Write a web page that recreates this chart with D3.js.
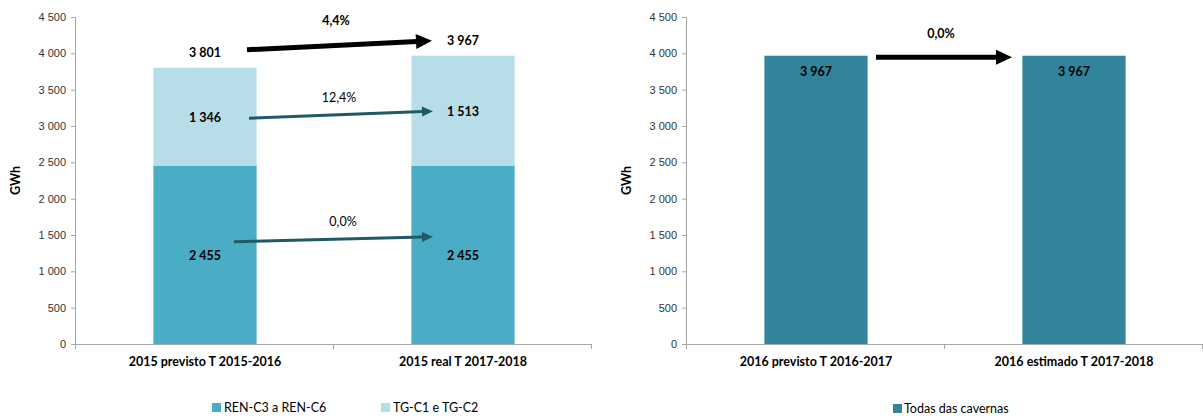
<!DOCTYPE html>
<html><head><meta charset="utf-8">
<script src="https://cdn.jsdelivr.net/npm/d3@7/dist/d3.min.js"></script>
<style>body{margin:0;background:#fff}svg{display:block;font-family:Lato,"Open Sans",sans-serif}</style>
</head><body><svg id="c" width="1203" height="418"></svg>
<script>
// ---- data ----
const leftCategories = ["2015 previsto T 2015-2016", "2015 real T 2017-2018"];
const renValues = [2455, 2455];          // REN-C3 a REN-C6
const tgValues = [1346, 1513];           // TG-C1 e TG-C2
const leftTotals = [3801, 3967];
const leftChanges = ["4,4%", "12,4%", "0,0%"]; // total, TG, REN
const rightCategories = ["2016 previsto T 2016-2017", "2016 estimado T 2017-2018"];
const rightValues = [3967, 3967];        // Todas das cavernas
const rightChange = "0,0%";
const yTicks = [0, 500, 1000, 1500, 2000, 2500, 3000, 3500, 4000, 4500];
const seriesNames = ["REN-C3 a REN-C6", "TG-C1 e TG-C2", "Todas das cavernas"];

const COL_REN = "#4BACC6", COL_TG = "#B7DEE8", COL_ALL = "#31849B", COL_ARROW = "#215967";
const AXIS = "#a6a6a6";
const fmt = v => d3.format(",")(v).replace(/,/g, " ");

const svg = d3.select("#c");

function axes(g, x, y, cats) {
  const ya = d3.axisLeft(y).tickValues(yTicks).tickSize(5).tickFormat(fmt);
  const gy = g.append("g").attr("transform", `translate(${x.range()[0]},0)`).call(ya);
  gy.select(".domain").attr("stroke", AXIS).attr("d", `M-0.5,${y.range()[1]}V${y.range()[0]}`);
  gy.selectAll(".tick line").attr("stroke", AXIS);
  gy.selectAll(".tick text").attr("fill", "#333").style("font-size", "11px").attr("x", -10);
  // x axis line
  g.append("line").attr("x1", x.range()[0]).attr("x2", x.range()[1])
    .attr("y1", y(0) + 0.5).attr("y2", y(0) + 0.5).attr("stroke", AXIS);
  const edges = cats.map(c => x(c)).concat([x.range()[1]]);
  g.selectAll(".xt").data(edges).join("line").attr("x1", d => Math.round(d) - 0.5).attr("x2", d => Math.round(d) - 0.5)
    .attr("y1", y(0)).attr("y2", y(0) + 5).attr("stroke", AXIS);
  g.selectAll(".xl").data(cats).join("text").attr("x", d => x(d) + x.bandwidth() / 2).attr("y", y(0) + 22)
    .attr("text-anchor", "middle").style("font-size", "12.5px").style("font-weight", "bold").attr("fill", "#000").text(d => d);
  g.append("text").attr("transform", `translate(${x.range()[0] - 56},${(y.range()[0] + y.range()[1]) / 2}) rotate(-90)`)
    .attr("text-anchor", "middle").style("font-size", "12.5px").style("font-weight", "bold").text("GWh");
}

function arrow(g, x1, y1, x2, y2, w, hl, hw, color) {
  const a = Math.atan2(y2 - y1, x2 - x1), c = Math.cos(a), s = Math.sin(a);
  const bx = x2 - hl * c, by = y2 - hl * s;
  g.append("line").attr("x1", x1).attr("y1", y1).attr("x2", bx + c).attr("y2", by + s)
    .attr("stroke", color).attr("stroke-width", w);
  g.append("path").attr("d", `M${x2},${y2}L${bx - hw / 2 * s},${by + hw / 2 * c}L${bx + hw / 2 * s},${by - hw / 2 * c}Z`).attr("fill", color);
}

// ---- left chart ----
const xL = d3.scaleBand().domain(leftCategories).range([76, 592]).padding(0);
const yL = d3.scaleLinear().domain([0, 4500]).range([344, 17]);
const gL = svg.append("g");
axes(gL, xL, yL, leftCategories);
const bwL = xL.bandwidth() * 0.4;
const stacked = leftCategories.map((c, i) => ({ c, ren: renValues[i], tg: tgValues[i] }));
const stack = d3.stack().keys(["ren", "tg"])(stacked);
const colsL = { ren: COL_REN, tg: COL_TG };
stack.forEach(layer => {
  gL.selectAll(null).data(layer).join("rect")
    .attr("x", d => xL(d.data.c) + (xL.bandwidth() - bwL) / 2).attr("width", bwL)
    .attr("y", d => yL(d[1])).attr("height", d => yL(d[0]) - yL(d[1])).attr("fill", colsL[layer.key]);
  gL.selectAll(null).data(layer).join("text")
    .attr("x", d => xL(d.data.c) + xL.bandwidth() / 2).attr("y", d => yL((d[0] + d[1]) / 2) + 5)
    .attr("text-anchor", "middle").style("font-size", "12.5px").style("font-weight", "bold").text(d => fmt(d.data[layer.key]));
});
gL.selectAll(".tot").data(leftCategories).join("text")
  .attr("x", d => xL(d) + xL.bandwidth() / 2).attr("y", (d, i) => yL(leftTotals[i]) - 11)
  .attr("text-anchor", "middle").style("font-size", "12.5px").style("font-weight", "bold").text((d, i) => fmt(leftTotals[i]));

const c1 = xL(leftCategories[0]) + xL.bandwidth() / 2, c2 = xL(leftCategories[1]) + xL.bandwidth() / 2;
// total arrow
arrow(gL, c1 + 42, yL(leftTotals[0]) - 18, c2 - 31, yL(leftTotals[1]) - 15, 5, 16, 15, "#000");
gL.append("text").attr("x", (c1 + c2) / 2 + 2).attr("y", 25).attr("text-anchor", "middle")
  .style("font-size", "12.5px").style("font-weight", "bold").text(leftChanges[0]);
// TG arrow
const m1 = yL(renValues[0] + tgValues[0] / 2), m2 = yL(renValues[1] + tgValues[1] / 2);
arrow(gL, c1 + 44, m1 + 1.5, c2 - 30, m2 + 0.5, 3, 11, 10, COL_ARROW);
gL.append("text").attr("x", (c1 + c2) / 2 + 5).attr("y", m1 - 15).attr("text-anchor", "middle")
  .style("font-size", "12.5px").text(leftChanges[1]);
// REN arrow
const r1 = yL(renValues[0] / 2), r2 = yL(renValues[1] / 2);
arrow(gL, c1 + 29, r1 - 13, c2 - 30, r2 - 18, 3, 11, 10, COL_ARROW);
gL.append("text").attr("x", (c1 + c2) / 2 + 9).attr("y", r1 - 29).attr("text-anchor", "middle")
  .style("font-size", "12.5px").text(leftChanges[2]);

// ---- right chart ----
const xR = d3.scaleBand().domain(rightCategories).range([687, 1203]).padding(0);
const yR = d3.scaleLinear().domain([0, 4500]).range([344, 17]);
const gR = svg.append("g");
axes(gR, xR, yR, rightCategories);
const bwR = xR.bandwidth() * 0.4;
gR.selectAll(".bar").data(rightCategories).join("rect")
  .attr("x", d => xR(d) + (xR.bandwidth() - bwR) / 2).attr("width", bwR)
  .attr("y", (d, i) => yR(rightValues[i])).attr("height", (d, i) => yR(0) - yR(rightValues[i])).attr("fill", COL_ALL);
gR.selectAll(".lbl").data(rightCategories).join("text")
  .attr("x", d => xR(d) + xR.bandwidth() / 2).attr("y", (d, i) => yR(rightValues[i]) + 20)
  .attr("text-anchor", "middle").style("font-size", "12.5px").style("font-weight", "bold").attr("fill", "#000")
  .text((d, i) => fmt(rightValues[i]));
const rc1 = xR(rightCategories[0]) + xR.bandwidth() / 2, rc2 = xR(rightCategories[1]) + xR.bandwidth() / 2;
arrow(gR, rc1 + 60, yR(rightValues[0]) + 1.5, rc2 - 62, yR(rightValues[1]) + 1.5, 5, 16, 15, "#000");
gR.append("text").attr("x", (rc1 + rc2) / 2 - 4).attr("y", 38).attr("text-anchor", "middle")
  .style("font-size", "12.5px").style("font-weight", "bold").text(rightChange);

// ---- legends ----
const legL = [{ n: seriesNames[0], c: COL_REN, x: 212 }, { n: seriesNames[1], c: COL_TG, x: 381 }];
const lg = svg.append("g");
lg.selectAll("rect").data(legL).join("rect").attr("x", d => d.x).attr("y", 403).attr("width", 9).attr("height", 9).attr("fill", d => d.c);
lg.selectAll("text").data(legL).join("text").attr("x", d => d.x + 12).attr("y", 412).style("font-size", "12.5px").attr("fill", "#000").text(d => d.n);
const lgR = svg.append("g");
lgR.append("rect").attr("x", 893).attr("y", 404).attr("width", 9).attr("height", 9).attr("fill", COL_ALL);
lgR.append("text").attr("x", 904).attr("y", 413).style("font-size", "12.5px").text(seriesNames[2]);
</script></body></html>
